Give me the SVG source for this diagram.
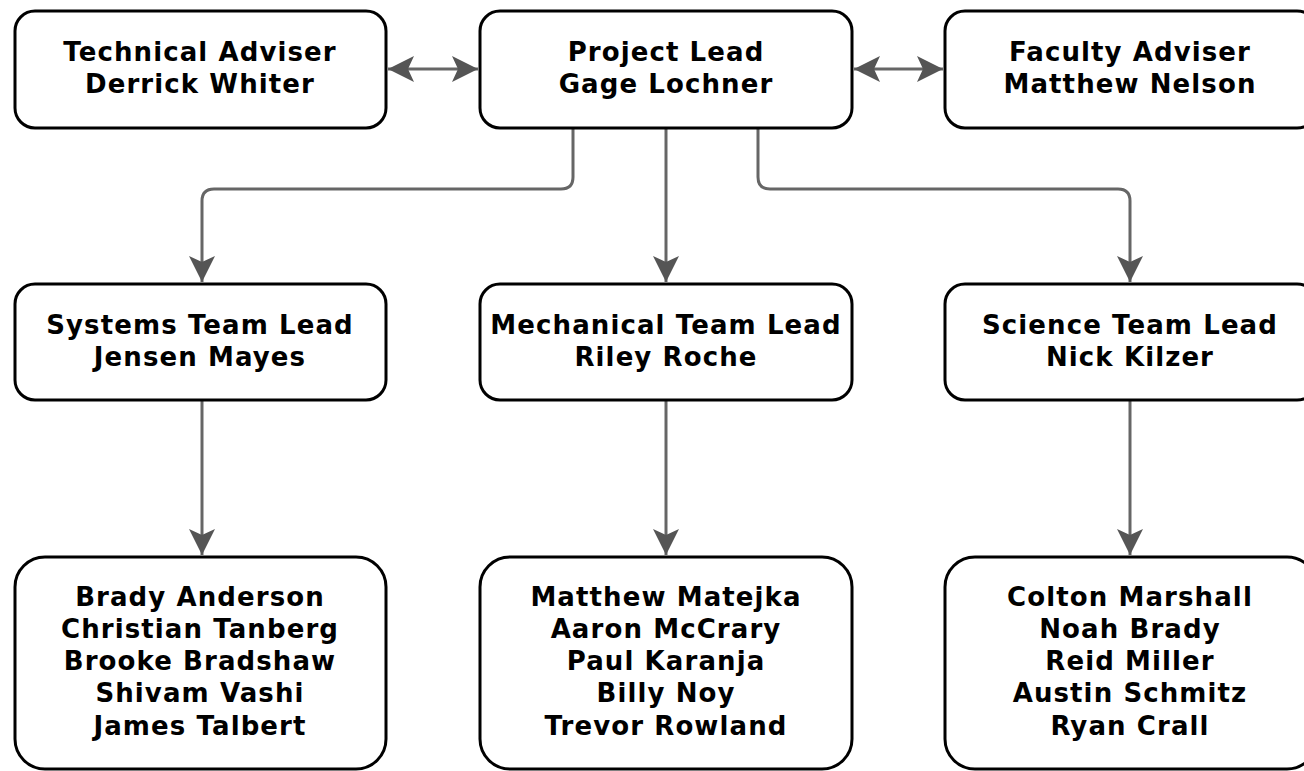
<svg xmlns="http://www.w3.org/2000/svg" width="1304" height="771" viewBox="0 0 1304 771">
<style>
.box{fill:#fff;stroke:#000;stroke-width:3}
.t{font-family:"DejaVu Sans",Verdana,sans-serif;font-weight:bold;font-size:26px;letter-spacing:1.1px;fill:#000;text-anchor:middle}
.c{fill:none;stroke:#666;stroke-width:3}
</style>
<defs>
<marker id="ah2" viewBox="0 0 26 26" refX="26" refY="13" markerWidth="26" markerHeight="26" markerUnits="userSpaceOnUse" orient="auto-start-reverse">
<path d="M0,0 L26,13 L0,26 L6,13 Z" fill="#555"/>
</marker>
</defs>
<rect width="1304" height="771" fill="#fff"/>
<g id="connectors">
<path class="c" d="M388,69 L478,69" marker-start="url(#ah2)" marker-end="url(#ah2)"/>
<path class="c" d="M854,69 L943,69" marker-start="url(#ah2)" marker-end="url(#ah2)"/>
<path class="c" d="M666,129 L666,282" marker-end="url(#ah2)"/>
<path class="c" d="M573,129 L573,177 Q573,189 561,189 L214,189 Q202,189 202,201 L202,282" marker-end="url(#ah2)"/>
<path class="c" d="M758,129 L758,177 Q758,189 770,189 L1118,189 Q1130,189 1130,201 L1130,282" marker-end="url(#ah2)"/>
<path class="c" d="M202,401 L202,555" marker-end="url(#ah2)"/>
<path class="c" d="M666,401 L666,555" marker-end="url(#ah2)"/>
<path class="c" d="M1130,401 L1130,555" marker-end="url(#ah2)"/>
</g>
<g id="technical-adviser">
<rect class="box" x="15" y="11" width="371" height="117" rx="20"/>
<text class="t" x="200" y="61">Technical Adviser</text>
<text class="t" x="200" y="93">Derrick Whiter</text>
</g>
<g id="project-lead">
<rect class="box" x="480" y="11" width="372" height="117" rx="20"/>
<text class="t" x="666" y="61">Project Lead</text>
<text class="t" x="666" y="93">Gage Lochner</text>
</g>
<g id="faculty-adviser">
<rect class="box" x="945" y="11" width="372" height="117" rx="20"/>
<text class="t" x="1130" y="61">Faculty Adviser</text>
<text class="t" x="1130" y="93">Matthew Nelson</text>
</g>
<g id="systems-lead">
<rect class="box" x="15" y="284" width="371" height="116" rx="20"/>
<text class="t" x="200" y="334">Systems Team Lead</text>
<text class="t" x="200" y="366">Jensen Mayes</text>
</g>
<g id="mechanical-lead">
<rect class="box" x="480" y="284" width="372" height="116" rx="20"/>
<text class="t" x="666" y="334">Mechanical Team Lead</text>
<text class="t" x="666" y="366">Riley Roche</text>
</g>
<g id="science-lead">
<rect class="box" x="945" y="284" width="372" height="116" rx="20"/>
<text class="t" x="1130" y="334">Science Team Lead</text>
<text class="t" x="1130" y="366">Nick Kilzer</text>
</g>
<g id="systems-team">
<rect class="box" x="15" y="557" width="371" height="212" rx="30"/>
<text class="t" x="200" y="606">Brady Anderson</text>
<text class="t" x="200" y="638">Christian Tanberg</text>
<text class="t" x="200" y="670">Brooke Bradshaw</text>
<text class="t" x="200" y="702">Shivam Vashi</text>
<text class="t" x="200" y="735">James Talbert</text>
</g>
<g id="mechanical-team">
<rect class="box" x="480" y="557" width="372" height="212" rx="30"/>
<text class="t" x="666" y="606">Matthew Matejka</text>
<text class="t" x="666" y="638">Aaron McCrary</text>
<text class="t" x="666" y="670">Paul Karanja</text>
<text class="t" x="666" y="702">Billy Noy</text>
<text class="t" x="666" y="735">Trevor Rowland</text>
</g>
<g id="science-team">
<rect class="box" x="945" y="557" width="372" height="212" rx="30"/>
<text class="t" x="1130" y="606">Colton Marshall</text>
<text class="t" x="1130" y="638">Noah Brady</text>
<text class="t" x="1130" y="670">Reid Miller</text>
<text class="t" x="1130" y="702">Austin Schmitz</text>
<text class="t" x="1130" y="735">Ryan Crall</text>
</g>
</svg>
